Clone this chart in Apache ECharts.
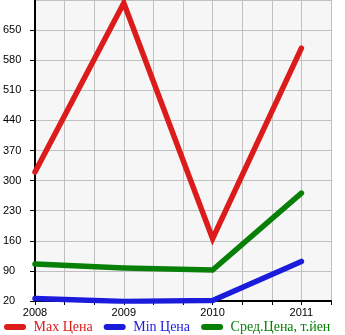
<!DOCTYPE html>
<html>
<head>
<meta charset="utf-8">
<script src="https://cdn.jsdelivr.net/npm/echarts@6/dist/echarts.min.js"></script>
<style>
html,body{margin:0;padding:0;background:#fff;}
#chart{width:345px;height:335px;}
</style>
</head>
<body>
<div id="chart"></div>
<script>
var years = [2008, 2009, 2010, 2011];
var seriesNames = ['Max Цена', 'Min Цена', 'Сред.Цена, т.йен'];
var maxPrice = [320, 713, 165, 608];
var minPrice = [26, 19, 21, 112];
var avgPrice = [106, 97, 92, 271];
var yTicks = [20, 90, 160, 230, 300, 370, 440, 510, 580, 650, 720];
var colors = ['#dc1b1b', '#1b1bdc', '#088008'];

function pairs(vals) { return years.map(function (y, i) { return [y, vals[i]]; }); }

var chart = echarts.init(document.getElementById('chart'), null, {renderer: 'canvas'});
var capsule = 'path://M3,0 L19,0 A3,3 0 0 1 19,6 L3,6 A3,3 0 0 1 3,0 Z';
var lineSeries = [maxPrice, minPrice, avgPrice].map(function (vals, i) {
  return {
    name: seriesNames[i],
    type: 'line',
    data: pairs(vals),
    showSymbol: false,
    symbol: 'none',
    color: colors[i],
    lineStyle: {width: 5.5, color: colors[i], cap: 'round', join: 'miter'},
    animation: false,
    z: 3 - i + 2
  };
});

chart.setOption({
  animation: false,
  grid: {left: 31, right: 14, top: 0, bottom: 34, show: true, backgroundColor: '#f6f6f6', borderWidth: 0},
  legend: {
    left: -1, top: 315,
    itemWidth: 23, itemHeight: 6, itemGap: 11,
    icon: capsule,
    data: seriesNames.map(function (n, i) {
      return {name: n, textStyle: {color: colors[i]}};
    }),
    textStyle: {fontFamily: 'Liberation Serif', fontSize: 14, padding: [0, 0, 0, 2]}
  },
  xAxis: {
    type: 'value',
    min: 2008, max: 2008 + 10 / 3, interval: 1 / 3,
    axisLine: {show: true, onZero: false, lineStyle: {color: '#000', width: 2}},
    axisTick: {show: true, length: 4, lineStyle: {color: '#000', width: 1}},
    splitLine: {show: true, lineStyle: {color: '#c0c0c0', width: 1}},
    axisLabel: {
      color: '#000', fontFamily: 'Liberation Sans', fontSize: 11, margin: 6,
      showMaxLabel: true,
      formatter: function (v) {
        var r = Math.round(v);
        return (Math.abs(v - r) < 1e-6 && years.indexOf(r) >= 0) ? String(r) : '';
      }
    }
  },
  yAxis: {
    type: 'value',
    min: yTicks[0], max: yTicks[yTicks.length - 1], interval: yTicks[1] - yTicks[0],
    axisLine: {show: true, lineStyle: {color: '#000', width: 2}},
    axisTick: {show: true, length: 5, lineStyle: {color: '#000', width: 1}},
    splitLine: {show: true, lineStyle: {color: '#c0c0c0', width: 1}},
    axisLabel: {
      color: '#000', fontFamily: 'Liberation Sans', fontSize: 11,
      align: 'left', margin: 32, showMaxLabel: false, padding: [0, 0, 3, 0],
      formatter: function (v) { return yTicks.indexOf(v) >= 0 && v !== 720 ? String(v) : ''; }
    }
  },
  series: lineSeries
});
</script>
</body>
</html>
